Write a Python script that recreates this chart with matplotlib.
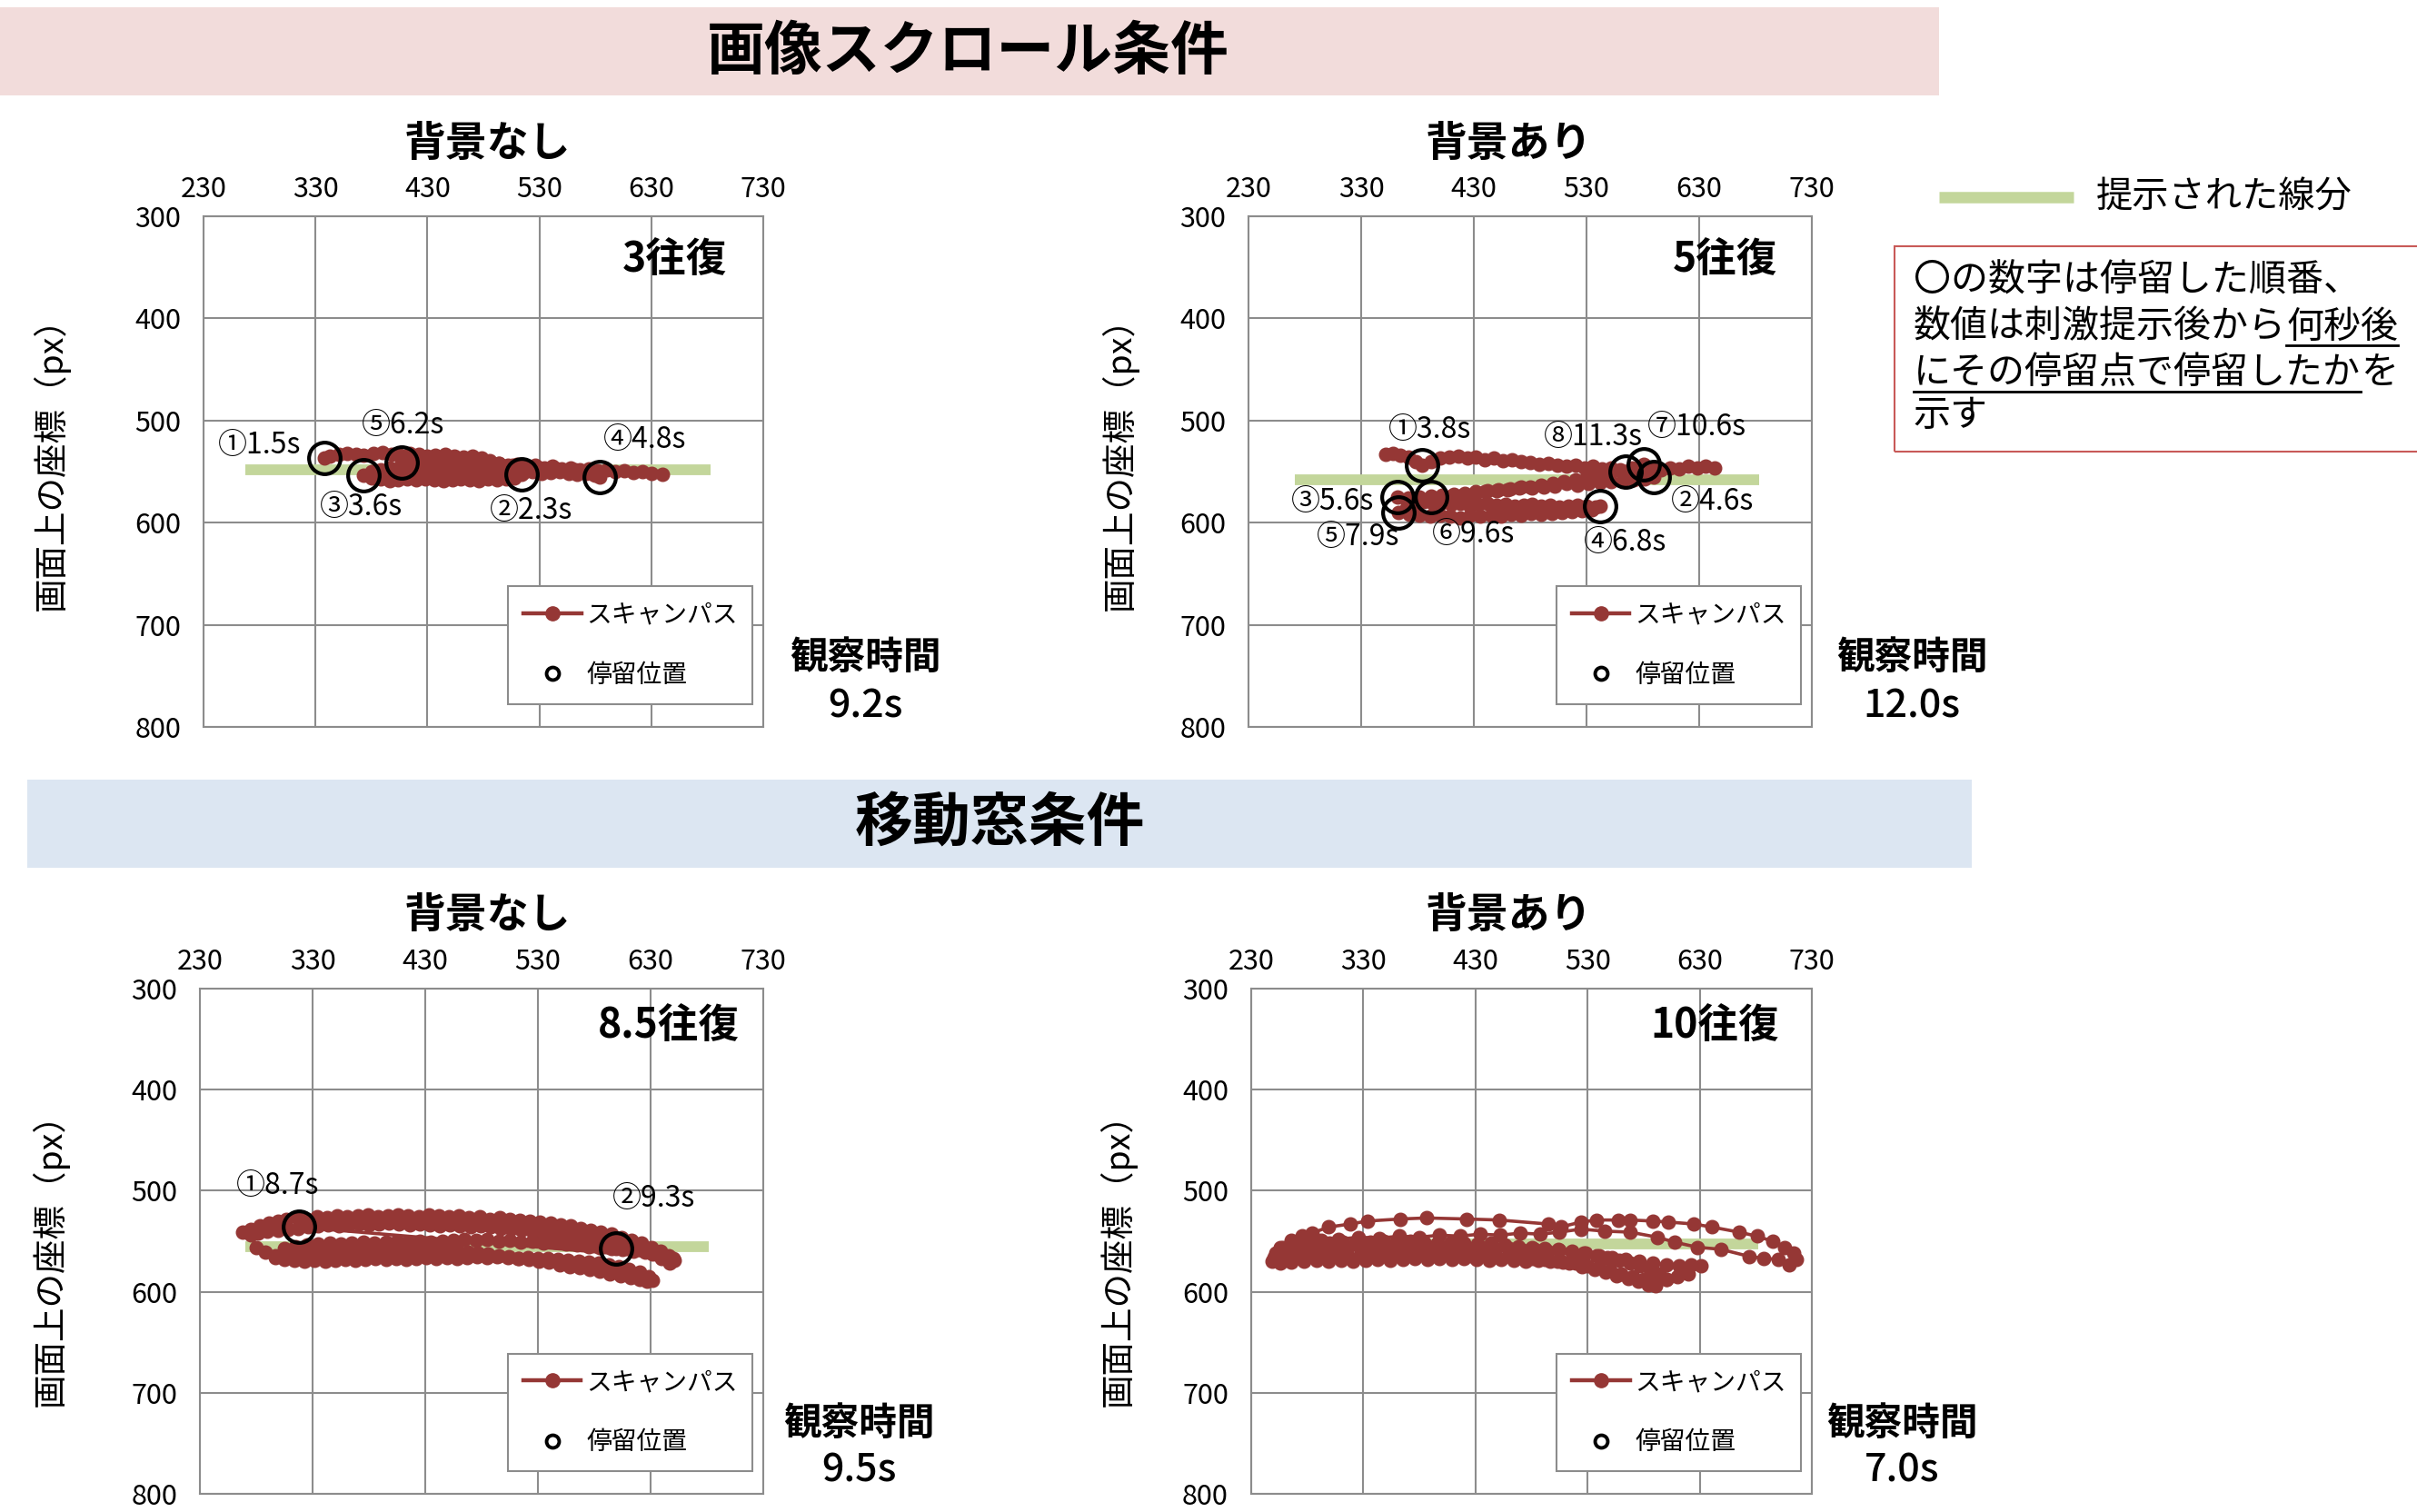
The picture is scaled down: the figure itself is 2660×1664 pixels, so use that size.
import numpy as np
import matplotlib
matplotlib.use('Agg')
from matplotlib import pyplot as plt
from matplotlib.lines import Line2D
from matplotlib.patches import Rectangle

plt.rcParams['font.family'] = ['Noto Sans CJK JP', 'DejaVu Sans']

# ---- data -------------------------------------------------------------
x_ticks = [230, 330, 430, 530, 630, 730]
y_ticks = [300, 400, 500, 600, 700, 800]

# 画像スクロール条件 / 背景なし (3往復)
p1_x = [338, 343, 351, 358, 366, 373, 382, 390, 398, 405, 414, 422, 430, 437, 446, 454, 462, 470, 478, 486, 494, 502, 509, 514,
        508, 500, 492, 484, 476, 468, 460, 452, 444, 436, 428, 420, 412, 404, 396, 388, 380, 373,
        380, 388, 396, 404, 412, 420, 428, 436, 444, 452, 460, 468, 476, 484, 492, 500, 508, 516, 524, 532, 540, 548, 556, 564, 572, 580, 584,
        578, 570, 562, 554, 546, 538, 530, 522, 514, 506, 498, 490, 482, 474, 466, 458, 450, 442, 434, 426, 418, 410, 407,
        414, 422, 430, 438, 446, 454, 462, 470, 478, 486, 494, 502, 510, 518, 526, 534, 542, 550, 558, 566, 574, 582, 590, 598, 606, 614, 622, 630, 640]
p1_y = [537, 535, 533, 532, 533, 534, 532, 531, 533, 534, 532, 533, 535, 534, 533, 535, 536, 535, 537, 539, 542, 545, 549, 553,
        556, 557, 558, 557, 559, 558, 557, 558, 559, 558, 557, 558, 557, 558, 559, 557, 556, 554,
        550, 548, 546, 547, 545, 546, 547, 546, 548, 547, 549, 548, 550, 549, 551, 550, 549, 551, 550, 552, 551, 550, 552, 553, 552, 554, 555,
        553, 550, 548, 549, 547, 548, 546, 547, 545, 544, 545, 543, 542, 543, 541, 540, 541, 539, 540, 538, 540, 541, 541,
        539, 537, 538, 540, 539, 541, 540, 542, 541, 543, 542, 544, 543, 545, 544, 546, 545, 547, 546, 548, 547, 549, 548, 550, 549, 551, 550, 552, 553]
s1_x = [338, 514, 373, 584, 407]
s1_y = [537, 553, 554, 555, 541]
s1_lab = ['①1.5s', '②2.3s', '③3.6s', '④4.8s', '⑤6.2s']
s1_lx = [280, 523, 371, 624, 408]
s1_ly = [524, 588, 585, 519, 505]
seg1_x = [267, 683]
seg1_y = [548, 548]

# 画像スクロール条件 / 背景あり (5往復)
p2_x = [352, 358, 365, 372, 378, 384, 392, 400, 408, 416, 424, 432, 440, 448, 456, 464, 472, 480, 488, 496, 504, 512, 520, 528, 536, 544, 552, 560, 568, 576, 584, 590,
        582, 572, 562, 552, 542, 532, 522, 512, 502, 492, 482, 472, 462, 452, 442, 432, 422, 412, 402, 392, 382, 372, 362,
        370, 378, 386, 394, 402, 410, 418, 426, 434, 442, 450, 458, 466, 474, 482, 490, 498, 506, 514, 522, 530, 538, 542,
        535, 526, 517, 508, 499, 490, 481, 472, 463, 454, 445, 436, 427, 418, 409, 400, 391, 382, 373, 363,
        370, 378, 385, 392,
        400, 410, 420, 430, 440, 450, 460, 470, 480, 490, 500, 510, 520, 530, 540, 550, 560, 570, 581,
        575, 570, 565, 572, 580, 588, 596, 604, 612, 620, 628, 636, 644]
p2_y = [533, 532, 534, 536, 540, 544, 540, 537, 536, 535, 537, 536, 538, 537, 539, 538, 540, 541, 543, 542, 544, 545, 544, 546, 545, 547, 546, 548, 549, 551, 553, 555,
        557, 558, 559, 560, 561, 562, 563, 562, 564, 565, 566, 565, 567, 568, 569, 570, 571, 572, 573, 574, 575, 576, 575,
        578, 580, 579, 581, 580, 582, 581, 583, 582, 581, 583, 582, 584, 583, 582, 584, 583, 585, 584, 583, 584, 585, 584,
        587, 588, 589, 590, 591, 592, 591, 593, 592, 594, 593, 594, 593, 595, 594, 593, 594, 593, 592, 590,
        586, 581, 578, 575,
        576, 574, 573, 572, 570, 569, 568, 566, 565, 563, 562, 560, 558, 556, 554, 552, 549, 546, 543,
        546, 548, 550, 549, 548, 547, 548, 546, 547, 545, 546, 545, 546]
s2_x = [384, 590, 362, 542, 363, 392, 581, 565]
s2_y = [544, 555, 575, 584, 590, 575, 543, 550]
s2_lab = ['①3.8s', '②4.6s', '③5.6s', '④6.8s', '⑤7.9s', '⑥9.6s', '⑦10.6s', '⑧11.3s']
s2_lx = [391, 642, 305, 564, 327, 430, 628, 536]
s2_ly = [509, 579, 579, 619, 614, 611, 506, 516]
seg2_x = [271, 683]
seg2_y = [558, 558]

# 移動窓条件 / 背景なし (8.5往復)
p3_x = [268, 275, 283, 291, 299, 307, 316, 325, 334, 343, 352, 361, 370, 379, 388, 397, 406, 415, 424, 433, 442, 451, 460, 469, 478, 487, 496, 505, 514, 523, 532, 541, 550, 559, 568, 577, 586, 595, 604, 613, 622, 631, 639, 646, 651,
        647, 640, 632, 623, 614, 605, 596, 587, 578, 569, 560, 551, 542, 533, 524, 515, 506, 497, 488, 479, 470, 461, 452, 443, 434, 425, 416, 407, 398, 389, 380, 371, 362, 353, 344, 335, 326, 317, 308, 299, 290, 282, 275,
        280, 288, 297, 306, 315, 324, 333, 342, 351, 360, 369, 378, 387, 396, 405, 414, 423, 432, 441, 450, 459, 468, 477, 486, 495, 504, 513, 522, 531, 540, 549, 558, 567, 576, 585, 594, 603, 612, 620, 627, 632,
        628, 620, 611, 602, 593, 584, 575, 566, 557, 548, 539, 530, 521, 512, 503, 494, 485, 476, 467, 458, 449, 440, 431, 422, 413, 404, 395, 386, 377, 368, 359, 350, 341, 332, 323, 314, 305, 297,
        305, 315, 325, 335, 345, 355, 365, 375, 385, 395, 405, 415, 425, 435, 445, 455, 465, 475, 485, 495, 505, 515, 525, 535, 545, 555, 565, 575, 585, 595, 605, 615, 625, 635, 643, 650,
        318, 327, 336, 345, 354, 363, 372, 381, 390, 399, 408, 417, 426, 435, 444, 453, 462, 471, 480, 489, 498, 507, 516, 525, 534, 543, 552, 561, 570, 579, 588, 599]
p3_y = [541, 538, 535, 532, 530, 528, 527, 528, 526, 527, 525, 526, 525, 524, 526, 525, 524, 525, 526, 524, 525, 526, 525, 527, 526, 528, 527, 528, 529, 530, 531, 532, 534, 535, 537, 539, 541, 543, 546, 549, 552, 556, 560, 564, 569,
        572, 567, 563, 559, 556, 553, 551, 549, 547, 545, 543, 542, 541, 540, 539, 538, 537, 537, 536, 535, 536, 535, 534, 535, 534, 533, 534, 533, 532, 533, 534, 533, 534, 535, 534, 535, 536, 537, 538, 539, 540, 542, 544,
        556, 561, 564, 563, 562, 563, 561, 562, 561, 560, 561, 559, 560, 559, 558, 559, 558, 559, 560, 559, 560, 561, 562, 563, 564, 565, 567, 568, 570, 571, 573, 575, 576, 578, 580, 582, 584, 586, 588, 590, 589,
        585, 581, 578, 575, 573, 572, 571, 570, 569, 568, 567, 567, 566, 567, 566, 565, 566, 565, 566, 567, 566, 567, 566, 567, 568, 567, 568, 567, 568, 569, 568, 569, 570, 569, 570, 569, 568, 566,
        557, 555, 554, 553, 552, 553, 552, 551, 552, 551, 550, 551, 550, 551, 550, 549, 548, 549, 548, 550, 549, 551, 550, 552, 551, 553, 554, 555, 556, 557, 558, 560, 561, 563, 565, 567,
        536, 534, 532, 531, 530, 529, 530, 529, 528, 529, 530, 529, 530, 531, 530, 531, 532, 533, 534, 535, 536, 537, 538, 539, 541, 542, 544, 546, 548, 551, 554, 557]
s3_x = [318, 599]
s3_y = [536, 557]
s3_lab = ['①8.7s', '②9.3s']
s3_lx = [299, 633]
s3_ly = [495, 508]
seg3_x = [270, 682]
seg3_y = [555, 555]

# 移動窓条件 / 背景あり (10往復)
p4_x = [252, 258, 266, 275, 284, 299, 318, 334, 363, 386, 422, 451, 495, 506, 524, 538, 557, 568, 588, 602, 625, 641, 665, 681, 695, 706, 714, 716, 710,
        700, 687, 674, 649, 628, 608, 592, 568, 545, 524, 505, 488, 470, 452, 434, 416, 398, 380, 362, 344, 326, 308, 292, 278, 266, 256,
        250, 259, 268, 277, 287, 297, 307, 317, 327, 338, 349, 360, 371, 382, 393, 404, 415, 426, 437, 448, 459, 470, 481, 492, 503, 514, 525, 536, 546, 556, 566, 575, 584, 591,
        600, 594, 586, 577, 568, 558, 548, 538, 527, 516, 505, 494, 483, 472, 460, 448, 436, 424, 412, 400, 388, 376, 364, 352, 340, 328, 316, 304, 292, 281, 270, 260, 252,
        256, 266, 277, 288, 300, 312, 324, 336, 348, 360, 372, 384, 396, 408, 420, 432, 444, 456, 468, 480, 492, 504, 516, 528, 540, 552, 564, 576, 588, 600, 612, 622, 631,
        620, 610, 600, 590, 580, 570, 560, 550, 540, 530, 519, 508, 497, 486, 475, 464, 453, 442, 431, 420, 409, 398, 387, 376, 365, 354, 343, 332, 321, 310, 299, 288, 277, 266, 256, 249]
p4_y = [566, 556, 549, 545, 542, 536, 533, 530, 528, 527, 528, 529, 533, 536, 531, 529, 529, 529, 530, 531, 533, 536, 541, 545, 550, 556, 562, 568, 573,
        568, 567, 565, 558, 556, 551, 546, 541, 540, 538, 541, 543, 542, 544, 543, 545, 544, 546, 545, 547, 546, 548, 549, 551, 553, 556,
        566, 568, 567, 566, 565, 566, 564, 565, 564, 563, 564, 563, 562, 563, 562, 563, 562, 564, 563, 565, 564, 566, 567, 568, 570, 572, 575, 578, 581, 584, 587, 590, 593, 594,
        588, 582, 578, 574, 572, 569, 566, 564, 562, 561, 559, 560, 558, 559, 557, 558, 556, 557, 556, 557, 555, 556, 557, 556, 557, 558, 557, 558, 559, 558, 560, 561, 562,
        557, 554, 552, 551, 552, 551, 550, 551, 550, 551, 550, 551, 552, 551, 552, 553, 552, 554, 555, 556, 557, 558, 560, 562, 564, 566, 568, 570, 572, 573, 574, 573, 574,
        582, 585, 588, 590, 588, 585, 582, 579, 576, 574, 572, 571, 570, 569, 570, 569, 568, 569, 568, 567, 568, 567, 568, 567, 568, 569, 568, 569, 570, 569, 570, 569, 570, 571, 572, 570]
s4_x = []
s4_y = []
s4_lab = []
s4_lx = []
s4_ly = []
seg4_x = [270, 682]
seg4_y = [553, 553]

titles = ['背景なし', '背景あり', '背景なし', '背景あり']
trips = ['3往復', '5往復', '8.5往復', '10往復']
obs_time = ['9.2s', '12.0s', '9.5s', '7.0s']

# ---- style ------------------------------------------------------------
W, H = 2660, 1664
path_color = '#953735'
seg_color = '#c3d69b'
grid_color = '#8c8c8c'


def fx(px):
    return px / W


def fy(py):
    return 1 - py / H


fig = plt.figure(figsize=(26.6, 16.64), dpi=100)

# 条件の帯
fig.patches.append(Rectangle((0, fy(105)), fx(2134), 97 / H, transform=fig.transFigure,
                             facecolor='#f2dcdb', edgecolor='none', zorder=0))
fig.patches.append(Rectangle((fx(30), fy(955)), fx(2140), 97 / H, transform=fig.transFigure,
                             facecolor='#dce6f2', edgecolor='none', zorder=0))
fig.text(fx(1065), fy(57), '画像スクロール条件', fontsize=46, fontweight='bold', ha='center', va='center')
fig.text(fx(1100), fy(907), '移動窓条件', fontsize=46, fontweight='bold', ha='center', va='center')

# 各パネル: [left px, top px, width px, height px], タイトル中心, 往復の位置, 観察時間の位置, ylabel座標
panels = [
    dict(rect=(224, 238, 616, 562), px=p1_x, py=p1_y, sx=s1_x, sy=s1_y, lab=s1_lab, lx=s1_lx, ly=s1_ly,
         gx=seg1_x, gy=seg1_y, title=(536, 159), trip=(742, 286), obs=(952, 724, 777), ylab=(-0.273, 0.532)),
    dict(rect=(1374, 238, 620, 562), px=p2_x, py=p2_y, sx=s2_x, sy=s2_y, lab=s2_lab, lx=s2_lx, ly=s2_ly,
         gx=seg2_x, gy=seg2_y, title=(1660, 159), trip=(1898, 286), obs=(2104, 724, 777), ylab=(-0.229, 0.532)),
    dict(rect=(220, 1088, 620, 556), px=p3_x, py=p3_y, sx=s3_x, sy=s3_y, lab=s3_lab, lx=s3_lx, ly=s3_ly,
         gx=seg3_x, gy=seg3_y, title=(536, 1008), trip=(736, 1129), obs=(945, 1567, 1618), ylab=(-0.265, 0.48)),
    dict(rect=(1377, 1088, 617, 556), px=p4_x, py=p4_y, sx=s4_x, sy=s4_y, lab=s4_lab, lx=s4_lx, ly=s4_ly,
         gx=seg4_x, gy=seg4_y, title=(1660, 1008), trip=(1887, 1129), obs=(2093, 1567, 1618), ylab=(-0.238, 0.48)),
]

for i, p in enumerate(panels):
    left, top, width, height = p['rect']
    ax = fig.add_axes([fx(left), fy(top + height), width / W, height / H])
    ax.set_xlim(230, 730)
    ax.set_ylim(800, 300)
    ax.set_xticks(x_ticks)
    ax.set_yticks(y_ticks)
    ax.xaxis.tick_top()
    ax.tick_params(axis='x', length=0, pad=10, labelsize=22)
    ax.tick_params(axis='y', length=0, pad=18, labelsize=22)
    ax.grid(True, color=grid_color, lw=1.5)
    ax.set_axisbelow(True)
    for s in ax.spines.values():
        s.set_color(grid_color)
        s.set_linewidth(1.5)

    ax.plot(p['gx'], p['gy'], color=seg_color, lw=8.5, solid_capstyle='butt', zorder=2)
    ax.plot(p['px'], p['py'], color=path_color, lw=2.6, marker='o', markersize=10.5, zorder=3)
    if p['sx']:
        ax.plot(p['sx'], p['sy'], ls='none', marker='o', markersize=25, markerfacecolor='none',
                markeredgecolor='black', markeredgewidth=3, zorder=4)
    for t, x, y in zip(p['lab'], p['lx'], p['ly']):
        ax.text(x, y, t, fontsize=23, ha='center', va='center', zorder=5)

    ax.set_ylabel('画面上の座標（px）', fontsize=27)
    ax.yaxis.label.set_va('center')
    ax.yaxis.set_label_coords(*p['ylab'])

    handles = [Line2D([], [], color=path_color, lw=3.2, marker='o', markersize=11),
               Line2D([], [], ls='none', marker='o', markersize=10, markerfacecolor='none',
                      markeredgecolor='black', markeredgewidth=2.8)]
    leg = ax.legend(handles, ['スキャンパス', '停留位置'], loc='lower right', bbox_to_anchor=(0.981, 0.045),
                    fontsize=20, frameon=True, fancybox=False, edgecolor=grid_color, framealpha=1,
                    labelspacing=1.3, borderpad=0.6, handlelength=2.3, handletextpad=0.2, borderaxespad=0)
    leg.get_frame().set_linewidth(1.5)

    fig.text(fx(p['title'][0]), fy(p['title'][1]), titles[i], fontsize=33, fontweight='bold', ha='center', va='center')
    fig.text(fx(p['trip'][0]), fy(p['trip'][1]), trips[i], fontsize=32, fontweight='bold', ha='center', va='center')
    fig.text(fx(p['obs'][0]), fy(p['obs'][1]), '観察時間', fontsize=30, fontweight='bold', ha='center', va='center')
    fig.text(fx(p['obs'][0]), fy(p['obs'][2]), obs_time[i], fontsize=31, fontweight='medium', ha='center', va='center')

# 右側の凡例と説明
fig.add_artist(Line2D([fx(2134), fx(2282)], [fy(217), fy(217)], transform=fig.transFigure,
                      color=seg_color, lw=9, solid_capstyle='butt'))
fig.text(fx(2307), fy(217), '提示された線分', fontsize=29, ha='left', va='center')

fig.patches.append(Rectangle((fx(2085), fy(497)), fx(700), 226 / H, transform=fig.transFigure,
                             facecolor='none', edgecolor='#c85a58', lw=1.5, zorder=1))

r = fig.canvas.get_renderer()
x0 = fx(2106)
fig.text(x0, fy(309), '〇の数字は停留した順番、', fontsize=29.5, ha='left', va='center')
fig.text(x0, fy(458), '示す', fontsize=29.5, ha='left', va='center')

t2a = fig.text(x0, fy(360), '数値は刺激提示後から', fontsize=29.5, ha='left', va='center')
bb = t2a.get_window_extent(renderer=r)
t2b = fig.text(bb.x1 / W, fy(360), '何秒後', fontsize=29.5, ha='left', va='center')
bb2 = t2b.get_window_extent(renderer=r)
fig.add_artist(Line2D([bb2.x0 / W, bb2.x1 / W], [fy(380), fy(380)], transform=fig.transFigure, color='black', lw=2))

t3a = fig.text(x0, fy(410), 'にその停留点で停留したか', fontsize=29.5, ha='left', va='center')
bb3 = t3a.get_window_extent(renderer=r)
fig.text(bb3.x1 / W, fy(410), 'を', fontsize=29.5, ha='left', va='center')
fig.add_artist(Line2D([bb3.x0 / W, bb3.x1 / W], [fy(431), fy(431)], transform=fig.transFigure, color='black', lw=2))

plt.savefig('out.png', dpi=100)
